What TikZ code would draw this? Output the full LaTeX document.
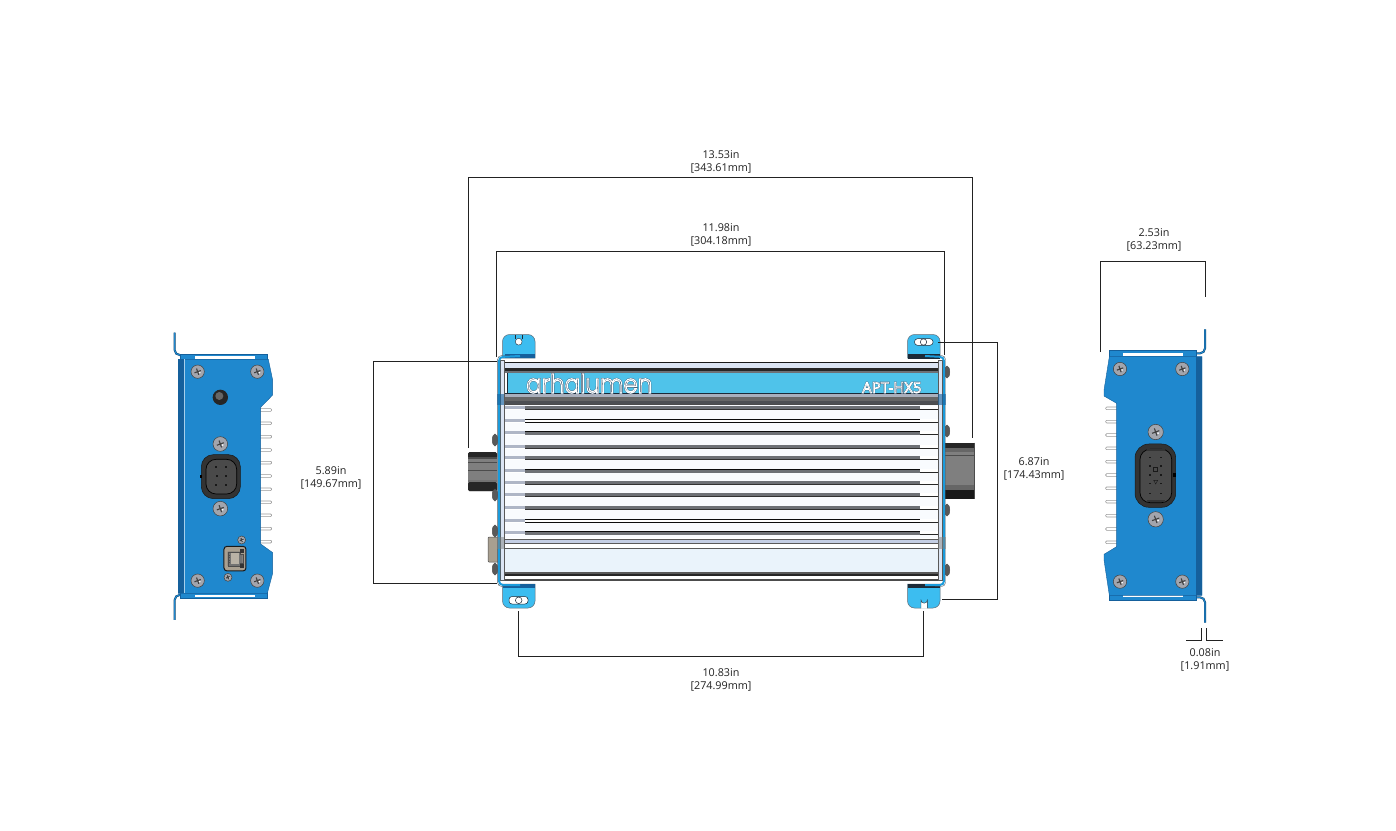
\documentclass[tikz,border=0pt]{standalone}
\usepackage{graphicx}
\usepackage{fontspec}
\setmainfont{Open Sans}
\newfontfamily\logofont{Poppins Light}
\newfontfamily\modelfont{Open Sans}
\definecolor{plateblue}{HTML}{1F88CE}
\definecolor{platedark}{HTML}{15609C}
\definecolor{tabblue}{HTML}{3CBDF0}
\definecolor{bandblue}{HTML}{4FC3EA}
\definecolor{edge}{HTML}{1B2A38}
\definecolor{paleband}{HTML}{EAF3FB}
\definecolor{lightband}{HTML}{DCE5F4}
\definecolor{midband}{HTML}{C4CEE4}
\definecolor{rowgrey}{HTML}{6E7176}
\definecolor{dimline}{HTML}{222222}
\definecolor{tan}{HTML}{A89F90}
\definecolor{screwgrey}{HTML}{A2A5AD}
\definecolor{sideblue}{HTML}{1B9BDB}
\definecolor{connbody}{HTML}{7F7F7F}
\tikzset{
  dimen/.style={draw=dimline,line width=0.75pt},
  dimlabel/.style={align=center,font=\fontsize{10.8}{13.2}\selectfont,text=dimline,inner sep=0pt},
  plate/.style={fill=plateblue,draw=platedark,line width=0.4pt},
  bracket/.style={draw=platedark!70!black,double=plateblue,double distance=1.1pt,line width=0.45pt,rounded corners=5pt},
  fin/.style={fill=white,draw=gray!80,line width=0.6pt},
  tabshape/.style={fill=tabblue,draw=edge!70,line width=0.5pt},
  boltside/.style={fill=gray!70!black,draw=black!70,line width=0.4pt},
}
\newcommand{\platescrew}[3]{%
  \fill[screwgrey,draw=black!75,line width=0.5pt] (#1,#2) circle (#3);
  \begin{scope}[shift={(#1,#2)},rotate=20]
  \draw[black!75,line width=1.1pt] (-#3*0.5,0) -- (#3*0.5,0) (0,-#3*0.5) -- (0,#3*0.5);
  \fill[white] (#3*0.25,#3*0.25) circle (#3*0.13);
  \end{scope}}
\begin{document}
\begin{tikzpicture}[x=1pt,y=-1pt]
\useasboundingbox (0,0) rectangle (1396,830);
\fill[white] (0,0) rectangle (1396,830);

%% ---------- LEFT VIEW ----------
\begin{scope}[shift={(160,320)},x=0.3333pt,y=-0.3333pt]
  \foreach \y in {270,310,350,390,428,468,508,547,586,626,665}
    \filldraw[fin,rounded corners=1pt] (295,\y-4) rectangle (335,\y+4);
  \draw[bracket] (44,38) -- (44,105) -- (100,105);
  \draw[bracket] (44,900) -- (44,825) -- (100,825);
  \fill[plateblue,draw=platedark,line width=0.4pt] (60,103) rectangle (322,120);
  \fill[plateblue,draw=platedark,line width=0.4pt] (60,818) rectangle (322,834);
  \fill[white] (106,108) rectangle (284,116);
  \fill[white] (106,824) rectangle (284,830);
  \filldraw[plate] (55,118) -- (325,118) -- (338,180) -- (338,225) -- (302,262) -- (302,672) -- (338,698) -- (338,760) -- (322,820) -- (55,820) -- cycle;
  \fill[platedark] (55,118) rectangle (72,820);
  \draw[white!60!plateblue,line width=0.4pt] (74,118) -- (74,820);
  \platescrew{113}{155}{20}
  \platescrew{292}{155}{20}
  \platescrew{113}{782}{20}
  \platescrew{292}{782}{20}
  \platescrew{181}{372}{22}
  \platescrew{181}{566}{22}
  \fill[black!85] (181,232) circle (23);
  \fill[black!60] (178,228) circle (12);
  \filldraw[fill=black!80,draw=black!90,rounded corners=12pt,line width=0.5pt] (124,404) rectangle (241,536);
  \filldraw[fill=gray!58!black,draw=black,rounded corners=10pt,line width=0.7pt] (138,418) rectangle (230,522);
  \foreach \px/\py in {165/442,195/442,168/468,195/468,165/495,195/495}
    \fill[black!90] (\px,\py-3) rectangle (\px+7,\py+3);
  \fill[black] (120,464) rectangle (127,474);
  \platescrew{245}{660}{12}
  \platescrew{204}{772}{12}
  \filldraw[fill=tan,draw=black!90,rounded corners=3pt,line width=1pt] (192,679) rectangle (258,753);
  \filldraw[fill=black!55,draw=black!70,line width=0.3pt] (203,695) -- (240,695) -- (240,703) -- (248,703) -- (248,730) -- (240,730) -- (240,738) -- (203,738) -- cycle;
  \fill[tan!80!white] (212,700) rectangle (236,733);
  \foreach \py in {705,712,719,726} \fill[black!70] (203,\py) rectangle (210,\py+3);
  \fill[black!80] (241,688) rectangle (253,700);
  \fill[black!80] (241,733) rectangle (253,745);
\end{scope}

%% ---------- RIGHT VIEW ----------
\begin{scope}[shift={(1090,320)},x=0.3333pt,y=-0.3333pt]
  \foreach \y in {265,305,345,385,425,465,505,545,587,627,667}
    \filldraw[fin,rounded corners=1pt] (47,\y-4) rectangle (85,\y+4);
  \draw[bracket] (345,28) -- (345,100) -- (300,100);
  \draw[bracket] (345,908) -- (345,832) -- (300,832);
  \fill[plateblue,draw=platedark,line width=0.4pt] (58,92) rectangle (320,112);
  \fill[plateblue,draw=platedark,line width=0.4pt] (58,824) rectangle (320,841);
  \fill[white] (98,100) rectangle (280,108);
  \fill[white] (98,824) rectangle (280,830);
  \filldraw[plate] (58,110) -- (42,210) -- (42,228) -- (80,250) -- (80,680) -- (42,703) -- (42,720) -- (58,826) -- (336,826) -- (336,110) -- cycle;
  \fill[platedark] (318,110) rectangle (336,826);
  \platescrew{90}{147}{20}
  \platescrew{277}{147}{20}
  \platescrew{90}{785}{20}
  \platescrew{277}{785}{20}
  \platescrew{197}{336}{23}
  \platescrew{197}{598}{23}
  \filldraw[fill=black!80,draw=black!90,rounded corners=14pt,line width=0.5pt] (135,372) rectangle (257,562);
  \filldraw[fill=gray!58!black,draw=black,rounded corners=10pt,line width=0.7pt] (150,388) rectangle (245,548);
  \foreach \py in {412,438,465,490,521} {
    \fill[black!90] (176,\py-2) rectangle (183,\py+2);
    \fill[black!90] (209,\py-2) rectangle (216,\py+2);
  }
  \draw[black!90,line width=0.4pt] (191,442) rectangle (202,453);
  \draw[black!90,line width=0.4pt] (191,481) -- (203,481) -- (197,492) -- cycle;
  \fill[black] (250,460) rectangle (257,472);
  \fill[black!80] (170,386) rectangle (224,392);
  \fill[black!80] (170,540) rectangle (224,546);
\end{scope}

%% ---------- MAIN VIEW: side parts ----------
% left connector
\fill[connbody,rounded corners=1.5pt] (468,452) rectangle (497,491);
\fill[black!85,rounded corners=1.5pt] (468,452) rectangle (497,458);
\fill[black!70] (468,457) rectangle (497,459);
\fill[black!85,rounded corners=1.5pt] (468,482) rectangle (497,491);
\fill[black!55] (468,479.5) rectangle (497,482);
\draw[black!70,line width=0.6pt] (468,462.5) -- (497,462.5) (468,470.5) -- (497,470.5);
% right connector
\fill[connbody] (945,442.7) rectangle (974.5,499);
\fill[black!85] (945,442.7) rectangle (974.5,448);
\fill[black!60] (945,448) rectangle (974.5,452);
\fill[black!60] (945,485) rectangle (974.5,490);
\fill[black!90] (945,490) rectangle (974.5,499);
\draw[black!70,line width=0.6pt] (945,455.5) -- (974.5,455.5);
\draw[black!70,line width=0.4pt] (974.5,442.7) -- (974.5,499);
% ethernet end
\filldraw[fill=tan,draw=black!70,line width=0.5pt,rounded corners=1pt] (488,537) rectangle (500,562);
% side bolts
\foreach \by in {440,495,531,569}
  \filldraw[boltside] (495,\by) ellipse (2.8pt and 6pt);
\foreach \by in {372,431,510,570}
  \filldraw[boltside] (947,\by) ellipse (2.8pt and 6pt);

%% tabs
\filldraw[tabshape] (502.5,358) [rounded corners=7pt] -- (502.5,334.5) -- (535,334.5) [sharp corners] -- (535,358) -- cycle;
\filldraw[tabshape] (907.5,358) [rounded corners=7pt] -- (907.5,334.5) -- (940,334.5) [sharp corners] -- (940,358) -- cycle;
\filldraw[tabshape] (502.5,584) [rounded corners=7pt] -- (502.5,608) -- (535,608) [sharp corners] -- (535,584) -- cycle;
\filldraw[tabshape] (907.5,584) [rounded corners=7pt] -- (907.5,608) -- (940,608) [sharp corners] -- (940,584) -- cycle;
\fill[platedark] (505,354) rectangle (535,358);
\fill[edge] (907.5,354) rectangle (940,358.5);
\fill[platedark] (503,584) rectangle (535,587.5);
\fill[edge] (907.5,584) rectangle (940,587.5);
% slots and holes
\fill[white,draw=edge,line width=0.4pt] (518.7,341.7) circle (3.4);
\draw[edge,line width=0.4pt] (515.5,335) -- (515.5,339) (522,335) -- (522,339);
\filldraw[fill=white,draw=edge,line width=0.5pt,rounded corners=3pt] (914.5,338.7) rectangle (933,345.3);
\draw[edge,line width=0.5pt] (923.5,342) circle (3.2);
\filldraw[fill=white,draw=edge,line width=0.5pt,rounded corners=3pt] (509,596.5) rectangle (528,604);
\draw[edge,line width=0.5pt] (518.7,600.3) circle (3.3);
\fill[white] (921,608.5) -- (921,600) arc (180:0:3.2) -- (927.4,608.5) -- cycle;
\draw[edge,line width=0.4pt] (921,608) -- (921,600) arc (180:0:3.2) -- (927.4,608);

%% body
\fill[white] (504,362) rectangle (938,580);
\fill[lightband] (504,363) rectangle (938,368);
\draw[black!90,line width=1pt] (504,362.5) -- (938,362.5);
\fill[black!85] (504,368) rectangle (938,370.5);
\fill[rowgrey] (504,370.5) rectangle (938,372.5);
\fill[bandblue] (507.5,372.5) rectangle (938,393.5);
\draw[edge,line width=0.6pt] (507.5,372.5) -- (507.5,393.5);
\draw[edge,line width=0.9pt] (504,393.7) -- (938,393.7);
\fill[midband!60!gray] (504,394) rectangle (938,396.5);
\fill[gray!80!black] (504,396.5) rectangle (938,401);
\fill[rowgrey!70!black] (504,401) rectangle (938,404);
\fill[black!70] (504,404) rectangle (938,405);
% fin rows
\fill[paleband!30!white] (504,405) rectangle (938,538);
\foreach \ry/\kind in {408/0,421/1,433/2,447/0,458/0,471/2,483/0,495/0,508/0,521/1,533/2}{
  \ifnum\kind=0
    \fill[rowgrey] (504,\ry-2.2) rectangle (920,\ry+2.2);
    \fill[black!80] (525,\ry+1.2) rectangle (920,\ry+2.3);
  \fi
  \ifnum\kind=1
    \fill[black!95] (504,\ry-2.2) rectangle (920,\ry-0.6);
    \fill[black!95] (504,\ry+0.8) rectangle (920,\ry+2.4);
    \fill[white] (504,\ry-0.6) rectangle (920,\ry+0.8);
  \fi
  \ifnum\kind=2
    \fill[black!95] (504,\ry-2.4) rectangle (920,\ry-1.2);
    \fill[rowgrey] (504,\ry-1.2) rectangle (920,\ry+2.2);
  \fi
  \fill[white] (504,\ry+0.8) rectangle (525,\ry+2.4);
  \fill[midband!70!gray] (504,\ry-1.6) rectangle (525,\ry+0.8);
  \fill[white] (920,\ry-1.8) rectangle (938,\ry+0.8);
  \draw[black!85,line width=0.7pt] (920,\ry+1.5) -- (938,\ry+1.5);
}
% lower bands
\fill[midband] (504,539) rectangle (938,543);
\draw[gray!70!black,line width=0.5pt] (504,539) -- (938,539) (504,543.5) -- (938,543.5);
\fill[white] (504,544) rectangle (938,548);
\fill[paleband] (504,548.5) rectangle (938,572);
\draw[gray!70!black,line width=0.5pt] (504,548.5) -- (938,548.5);
\fill[gray!70!black] (504,572) rectangle (938,573.5);
\fill[black!85] (504,573.5) rectangle (938,575.5);
\fill[white] (504,575.5) rectangle (938,578.5);
\fill[black!70] (504,578.5) rectangle (938,580.5);

%% end strips & blue bent plate
\filldraw[fill=lightband,draw=gray!70!black,line width=0.5pt] (500,360) rectangle (504,580);
\filldraw[fill=lightband,draw=gray!70!black,line width=0.5pt] (938,360) rectangle (942.5,580);
\draw[sideblue,line width=2pt,rounded corners=4pt] (499,400) -- (499,357) -- (520,356);
\draw[edge!80,line width=0.4pt,rounded corners=4pt] (497.6,400) -- (497.6,355.5) -- (510,355.5);
\draw[sideblue,line width=2pt,rounded corners=4pt] (944,400) -- (944,357) -- (925,356);
\draw[edge!80,line width=0.4pt,rounded corners=4pt] (945.5,400) -- (945.5,355.5) -- (935,355.5);
\draw[sideblue,line width=2pt,rounded corners=4pt] (499,400) -- (499,585) -- (520,585);
\draw[edge!80,line width=0.4pt,rounded corners=4pt] (497.6,400) -- (497.6,586.5) -- (510,586.5);
\draw[sideblue,line width=2pt,rounded corners=4pt] (944,400) -- (944,585) -- (925,585);
\draw[edge!80,line width=0.4pt,rounded corners=4pt] (945.5,400) -- (945.5,586.5) -- (935,586.5);
\fill[platedark,opacity=.6] (497,394) rectangle (504,405);
\fill[platedark,opacity=.6] (938,394) rectangle (946,405);
\fill[black!50,opacity=.5] (497,537) rectangle (504,549);
\fill[black!50,opacity=.5] (938,537) rectangle (946,549);

%% lettering
\node[anchor=base west,inner sep=0pt] (logo) at (526,393) {\scalebox{1}[1.12]{\special{pdf:code 1 Tr 1.5 w 0.2 0.3 0.4 RG}\logofont\fontsize{23}{24}\selectfont arhalumen\special{pdf:code 0 Tr}}};
\node[anchor=base west,inner sep=0pt] (logotop) at (526,393) {\scalebox{1}[1.12]{\special{pdf:code 1 Tr 0.95 w 1 1 1 RG}\logofont\fontsize{23}{24}\selectfont arhalumen\special{pdf:code 0 Tr}}};
\node[anchor=base west,inner sep=0pt] (model) at (862,393) {\special{pdf:code 1 Tr 1.3 w 0.25 0.35 0.45 RG}\modelfont\fontsize{15}{16}\selectfont APT-HX5\special{pdf:code 0 Tr}};
\node[anchor=base west,inner sep=0pt] (modeltop) at (862,393) {\special{pdf:code 1 Tr 0.7 w 1 1 1 RG}\modelfont\fontsize{15}{16}\selectfont APT-HX5\special{pdf:code 0 Tr}};

%% ---------- DIMENSIONS ----------
\begin{scope}[shift={(-0.2,0.1)}]
\coordinate (a1) at (469,448); \coordinate (a2) at (973,438);
\coordinate (b1) at (497,357); \coordinate (b2) at (945,355);
\coordinate (c1) at (497,361); \coordinate (c2) at (497,583);
\coordinate (d1) at (938,342); \coordinate (d2) at (942,599);
\coordinate (e1) at (519,611); \coordinate (e2) at (924,611);
\coordinate (f1) at (1101,352); \coordinate (f2) at (1206,297);
\coordinate (g1) at (1202,628); \coordinate (g2) at (1207,628);
\draw[dimen] (a1) -- (a1 |- 0,177) -- (a2 |- 0,177) -- (a2);
\draw[dimen] (b1) -- (b1 |- 0,251) -- (b2 |- 0,251) -- (b2);
\draw[dimen] (c1) -- (374,361) -- (374,583) -- (c2);
\draw[dimen] (d1) -- (998,342) -- (998,599) -- (d2);
\draw[dimen] (e1) -- (e1 |- 0,656) -- (e2 |- 0,656) -- (e2);
\draw[dimen] (f1) -- (f1 |- 0,261) -- (f2 |- 0,261) -- (f2);
\draw[dimen] (g1) -- (g1 |- 0,640) -- (1186,640);
\draw[dimen] (g2) -- (g2 |- 0,640) -- (1223,640);
\end{scope}

\node[dimlabel] (t1) at (721,161.5) {13.53in\\{}[343.61mm]};
\node[dimlabel] (t2) at (721,234.5) {11.98in\\{}[304.18mm]};
\node[dimlabel] (t3) at (331,478) {5.89in\\{}[149.67mm]};
\node[dimlabel] (t4) at (1034,469) {6.87in\\{}[174.43mm]};
\node[dimlabel] (t5) at (721,679.5) {10.83in\\{}[274.99mm]};
\node[dimlabel] (t6) at (1154,239.5) {2.53in\\{}[63.23mm]};
\node[dimlabel] (t7) at (1205,659.5) {0.08in\\{}[1.91mm]};
\end{tikzpicture}
\end{document}
